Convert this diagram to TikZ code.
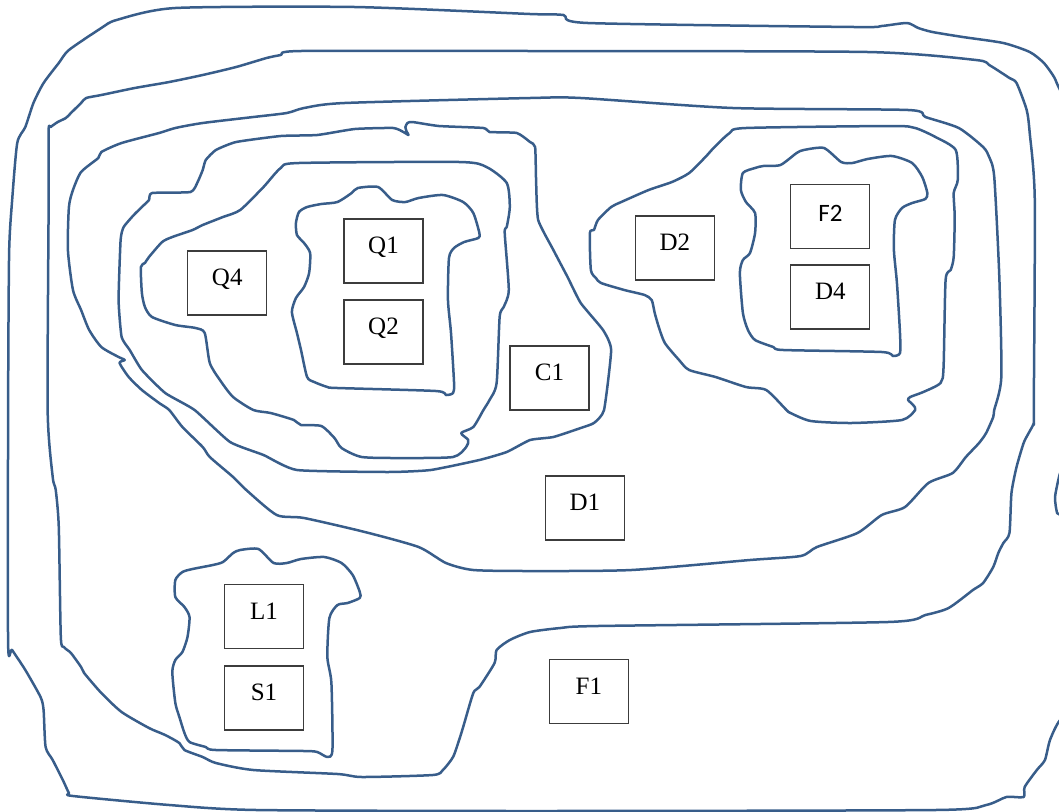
\documentclass[tikz,border=0pt]{standalone}
\usepackage{fontspec}
\setmainfont{Liberation Serif}
\newfontfamily\calib{Carlito}
\definecolor{inkblue}{RGB}{56,93,138}
\definecolor{boxgray}{RGB}{60,60,60}
\begin{document}
\begin{tikzpicture}[x=1.0135pt,y=-1pt,
  contour/.style={draw=inkblue,line width=2.5pt,line join=round,line cap=round},
  lbox/.style={draw=boxgray,line width=1.1pt,fill=white,minimum width=79pt,minimum height=64pt,
    inner sep=0pt,text height=17pt,text depth=12pt,font=\fontsize{25}{30}\selectfont}]
\useasboundingbox (0,0) rectangle (1044.9,812);
\begin{scope}
\clip (0,0) rectangle (1044.9,812);
% curve 1 (outermost)
\draw[contour] plot[smooth cycle,tension=0.4] coordinates {
(173,8) (350,7) (523,14) (556,15) (580,23) (843,27) (870,26) (895,23) (906,28) (920,32) (950,37) (990,43) (1016,52) (1030,63) (1040,77) (1046,90) (1070,130) (1070,440) (1051,470) (1046,473) (1041,497) (1043,513) (1046,515) (1070,540) (1070,700) (1046,720) (1036,740) (1031,760) (1023,770) (1011,787) (1010,797) (993,797) (973,805) (923,810) (523,811) (253,810) (167,805) (72,796) (68,793) (62,780) (52,760) (45,747) (43,710) (40,697) (25,670) (12,650) (8,643) (8,410) (9,253) (12,200) (17,143) (25,127) (33,103) (43,83) (58,63) (68,50) (100,28) (115,20)};
% curve 2
\draw[contour] plot[smooth cycle,tension=0.4] coordinates {
(297,51) (523,51) (856,52) (963,60) (976,65) (996,78) (1003,83) (1013,110) (1016,133) (1021,200) (1020,410) (1020,423) (1015,433) (1010,443) (1003,467) (998,493) (996,533) (990,543) (985,553) (980,567) (970,583) (960,590) (936,608) (913,615) (876,622) (590,626) (553,628) (523,632) (503,640) (490,650) (488,663) (473,687) (467,693) (457,727) (453,740) (447,757) (437,770) (427,775) (357,777) (333,774) (250,770) (213,763) (200,757) (182,750) (177,743) (163,735) (147,728) (120,712) (100,693) (83,673) (80,667) (70,653) (63,647) (60,637) (58,527) (55,490) (52,477) (47,410) (48,200) (48,130) (50,127) (57,122) (65,118) (70,113) (80,103) (85,98) (100,95) (133,88) (167,82) (200,75) (233,67) (263,58) (277,55)};
% curve 3
\draw[contour] plot[smooth cycle,tension=0.4] coordinates {
(300,108) (340,103) (523,98) (573,98) (723,108) (896,110) (913,117) (946,128) (970,147) (976,157) (981,177) (986,277) (988,377) (981,410) (980,417) (973,433) (966,443) (953,457) (940,473) (916,483) (893,507) (870,515) (846,533) (806,547) (790,556) (740,560) (623,570) (523,571) (467,570) (440,563) (413,547) (360,532) (300,518) (273,515) (243,490) (230,477) (207,457) (200,447) (180,427) (167,410) (157,403) (140,390) (127,377) (118,363) (123,360) (117,357) (100,347) (88,330) (80,310) (72,290) (67,250) (68,207) (72,190) (80,172) (97,158) (100,152) (120,143) (157,133) (173,128) (200,123) (250,117) (283,113)};
% curve 4
\draw[contour] plot[smooth cycle,tension=0.3] coordinates {
(313,135) (350,129) (388,128) (398,132) (403,135) (401,131) (400,127) (402,123) (407,122) (433,126) (477,128) (483,132) (510,133) (523,142) (528,147) (529,183) (531,220) (546,250) (560,277) (573,303) (595,330) (603,350) (596,410) (586,423) (573,428) (546,437) (523,440) (500,452) (473,460) (425,470) (383,472) (293,470) (260,455) (227,442) (192,410) (163,393) (140,370) (128,350) (120,337) (117,300) (119,240) (122,227) (132,215) (140,207) (147,200) (150,193) (188,192) (195,182) (200,170) (203,160) (213,150) (233,142) (277,136)};
% curve 5
\draw[contour] plot[smooth cycle,tension=0.4] coordinates {
(295,163) (453,162) (480,167) (500,183) (503,207) (500,227) (498,233) (502,290) (497,307) (493,317) (490,383) (483,400) (477,410) (467,427) (455,433) (462,440) (460,447) (447,457) (397,458) (357,457) (337,448) (330,438) (317,426) (297,425) (290,420) (267,413) (250,410) (230,397) (217,380) (207,363) (202,333) (193,328) (173,325) (150,317) (143,307) (140,293) (139,267) (143,263) (147,257) (160,242) (170,237) (190,230) (200,225) (220,217) (237,210) (260,187) (277,168)};
% curve 6
\draw[contour] plot[smooth cycle,tension=0.4] coordinates {
(353,188) (373,187) (387,200) (400,202) (413,198) (437,195) (457,202) (467,213) (473,233) (472,238) (458,242) (448,248) (443,258) (442,300) (445,333) (448,383) (447,393) (440,395) (430,391) (333,388) (323,387) (310,382) (303,377) (297,350) (293,333) (288,312) (292,298) (300,287) (305,273) (306,253) (300,243) (293,235) (292,223) (295,212) (303,207) (317,204) (333,202) (347,193)};
% curve 7
\draw[contour] plot[smooth cycle,tension=0.4] coordinates {
(736,128) (880,126) (903,128) (923,137) (943,150) (945,180) (941,193) (942,217) (941,257) (938,270) (933,280) (931,367) (928,383) (911,392) (898,397) (896,400) (901,405) (903,410) (890,420) (840,423) (800,421) (780,413) (776,410) (756,390) (736,387) (706,377) (680,370) (670,360) (656,343) (650,327) (646,313) (643,300) (636,295) (616,290) (593,283) (588,278) (583,270) (582,233) (586,230) (590,220) (603,207) (613,202) (640,190) (663,182) (680,173) (696,157) (705,147) (720,133)};
% curve 8
\draw[contour] plot[smooth cycle,tension=0.4] coordinates {
(793,150) (813,148) (830,162) (841,163) (856,159) (880,156) (900,163) (910,177) (915,193) (913,199) (900,203) (890,208) (883,220) (882,250) (885,283) (888,333) (888,353) (881,356) (870,352) (773,350) (763,347) (745,340) (738,330) (733,313) (730,273) (733,260) (740,253) (745,233) (745,213) (736,202) (731,190) (733,173) (745,168) (753,166) (770,165) (786,153)};
% curve 9
\draw[contour] plot[smooth cycle,tension=0.4] coordinates {
(237,550) (255,549) (270,563) (283,563) (297,559) (320,557) (337,563) (348,575) (355,592) (355,598) (343,603) (333,605) (325,618) (323,657) (327,683) (328,750) (323,757) (313,752) (300,751) (213,750) (203,747) (187,742) (182,733) (177,717) (173,703) (170,672) (173,660) (180,652) (185,637) (187,617) (182,607) (173,597) (173,580) (180,572) (190,569) (210,565) (220,562) (230,553)};
\end{scope}
% boxes
\node[lbox] (q4) at (224.2,283) {Q4};
\node[lbox] (q1) at (378.4,251) {Q1};
\node[lbox] (q2) at (378.4,332) {Q2};
\node[lbox] (c1) at (542.2,378) {C1};
\node[lbox] (d2) at (665.8,248) {D2};
\node[lbox,text depth=7pt,font=\calib\fontsize{25}{30}\selectfont] (f2) at (819.3,216.5) {F2};
\node[lbox] (d4) at (819.3,297) {D4};
\node[lbox] (d1) at (577.1,508) {D1};
\node[lbox] (f1) at (581.0,691.5) {F1};
\node[lbox] (l1) at (260.5,616.5) {L1};
\node[lbox] (s1) at (260.5,698) {S1};
\end{tikzpicture}
\end{document}
